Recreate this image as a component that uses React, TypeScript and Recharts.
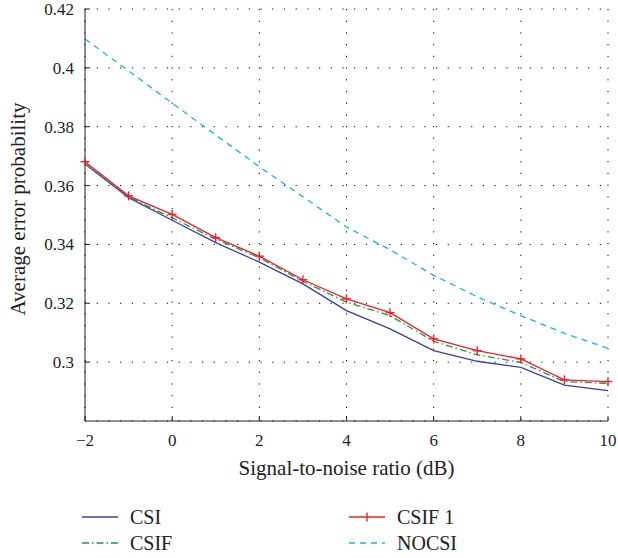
import React from 'react';
import { LineChart, Line, XAxis, YAxis, CartesianGrid, Legend } from 'recharts';

const snr = [-2, -1, 0, 1, 2, 3, 4, 5, 6, 7, 8, 9, 10];
const csi = [0.3673, 0.3559, 0.3482, 0.3406, 0.334, 0.3266, 0.3175, 0.3113, 0.3039, 0.3003, 0.2982, 0.2922, 0.2903];
const csif = [0.3675, 0.3562, 0.349, 0.3418, 0.3355, 0.3275, 0.3204, 0.3158, 0.3071, 0.3025, 0.2999, 0.2934, 0.2928];
const csif1 = [0.3681, 0.3565, 0.3502, 0.3423, 0.336, 0.328, 0.3215, 0.3168, 0.3079, 0.3039, 0.3011, 0.294, 0.2934];
const nocsi = [0.4098, 0.399, 0.388, 0.3772, 0.3664, 0.3562, 0.3459, 0.3382, 0.3295, 0.3222, 0.3158, 0.3098, 0.3047];

const xTicks = [-2, 0, 2, 4, 6, 8, 10];
const yTicks = [0.3, 0.32, 0.34, 0.36, 0.38, 0.4, 0.42];

const FONT = '"Liberation Serif", "Times New Roman", serif';
const AXIS = '#222';

// legend order follows the two-column layout (column by column)
const series = [
    { key: 'csi', name: 'CSI', color: '#3a40a0', dash: undefined as string | undefined, plus: false },
    { key: 'csif', name: 'CSIF', color: '#1a9a4a', dash: '7 3 1.5 3', plus: false },
    { key: 'csif1', name: 'CSIF 1', color: '#f0202a', dash: undefined, plus: true },
    { key: 'nocsi', name: 'NOCSI', color: '#19b4e0', dash: '6 5', plus: false },
];

const data = snr.map((x, i) => ({ snr: x, csi: csi[i], csif: csif[i], csif1: csif1[i], nocsi: nocsi[i] }));

const PlusDot = (props: any) => {
    const { cx, cy } = props;
    if (cx == null || cy == null) return null;
    return (
        <g>
            <line x1={cx - 4.5} y1={cy} x2={cx + 4.5} y2={cy} stroke="#f0202a" strokeWidth={1.4} />
            <line x1={cx} y1={cy - 4.5} x2={cx} y2={cy + 4.5} stroke="#f0202a" strokeWidth={1.4} />
        </g>
    );
};

const YLabel = (props: any) => {
    const vb = props.viewBox || {};
    const x = vb.x + 8;
    const y = vb.y + vb.height / 2 - 6;
    return (
        <text x={x} y={y} transform={`rotate(-90, ${x}, ${y})`} textAnchor="middle" dominantBaseline="central"
            style={{ fontFamily: FONT, fontSize: 21 }} fill="#222">
            Average error probability
        </text>
    );
};

const LegendBox = () => (
    <div style={{
        display: 'grid', gridTemplateRows: '26px 26px', gridAutoFlow: 'column', gridTemplateColumns: '267px 200px',
        fontFamily: FONT, fontSize: 20, color: '#222', paddingLeft: 82,
    }}>
        {series.map(s => (
            <div key={s.key} style={{ display: 'flex', alignItems: 'center', height: 26 }}>
                <svg width={36} height={12} style={{ marginRight: 12 }}>
                    <line x1={0} y1={6} x2={36} y2={6} stroke={s.color} strokeWidth={1.4} strokeDasharray={s.dash} />
                    {s.plus && <line x1={18} y1={1.5} x2={18} y2={10.5} stroke={s.color} strokeWidth={1.4} />}
                </svg>
                <span>{s.name}</span>
            </div>
        ))}
    </div>
);

const fmtX = (v: number) => (v < 0 ? '\u2212' + Math.abs(v) : String(v));
const fmtY = (v: number) => String(Number(v.toFixed(2)));
const blank = () => '';

export default function App() {
    return (
        <div style={{ position: 'absolute', left: 0, top: 0, width: 618, height: 558, background: '#fff', fontFamily: FONT }}>
            <LineChart width={618} height={558} data={data} margin={{ top: 9, right: 10, left: 10, bottom: 70 }}
                style={{ fontFamily: FONT }}>
                <CartesianGrid stroke="#000" strokeDasharray="1.2 10.5" strokeWidth={1} />
                <XAxis
                    dataKey="snr" type="number" domain={[-2, 10]} ticks={xTicks} tickFormatter={fmtX}
                    height={67} tickSize={-5} tickMargin={18} stroke={AXIS} interval={0}
                    tick={{ fontFamily: FONT, fontSize: 17, fill: '#222' }}
                    label={{ value: 'Signal-to-noise ratio (dB)', position: 'insideBottom', offset: 13, fontFamily: FONT, fontSize: 21, fill: '#222' }}
                />
                <XAxis
                    xAxisId="top" orientation="top" dataKey="snr" type="number" domain={[-2, 10]} ticks={xTicks}
                    tickFormatter={blank} height={0} tickSize={-5} stroke={AXIS} interval={0}
                />
                <YAxis
                    type="number" domain={[0.28, 0.42]} ticks={yTicks} tickFormatter={fmtY} width={75}
                    tickSize={-5} tickMargin={16} stroke={AXIS} interval={0}
                    tick={{ fontFamily: FONT, fontSize: 17, fill: '#222' }}
                    label={{ content: (p: any) => <YLabel {...p} /> }}
                />
                <YAxis
                    yAxisId="right" orientation="right" type="number" domain={[0.28, 0.42]} ticks={yTicks}
                    tickFormatter={blank} width={0} tickSize={-5} stroke={AXIS} interval={0}
                />
                {series.map(s => (
                    <Line
                        key={s.key} dataKey={s.key} name={s.name} stroke={s.color} strokeWidth={1.3}
                        strokeDasharray={s.dash} dot={s.plus ? <PlusDot /> : false} activeDot={false}
                        isAnimationActive={false} type="linear"
                    />
                ))}
                <Legend
                    layout="horizontal" verticalAlign="middle" align="center"
                    wrapperStyle={{ top: 504, left: 0, width: 618 }}
                    content={() => <LegendBox />}
                />
            </LineChart>
        </div>
    );
}
